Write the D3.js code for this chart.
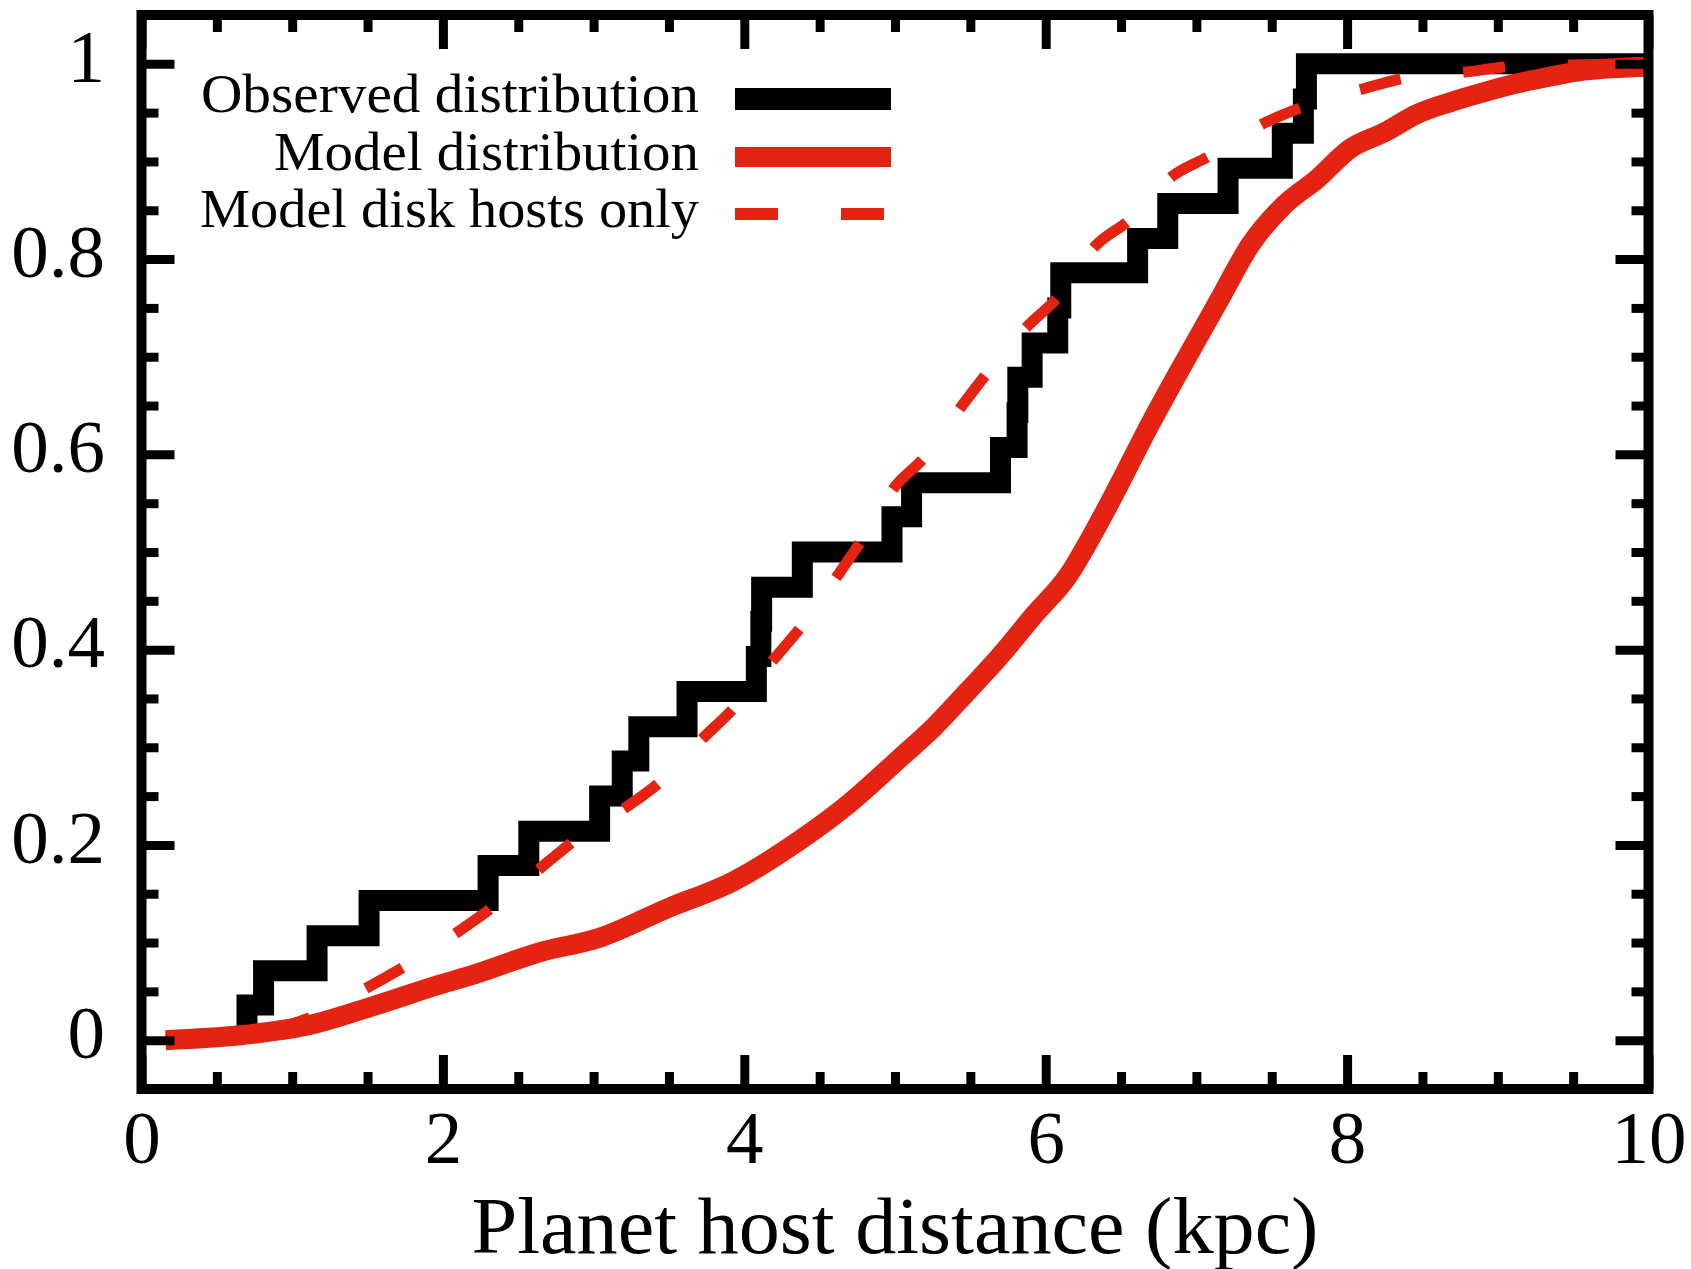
<!DOCTYPE html>
<html>
<head>
<meta charset="utf-8">
<script src="https://cdn.jsdelivr.net/npm/d3@7"></script>
<style>
  html, body { margin: 0; padding: 0; background: #fff; }
  svg { display: block; }
  text { font-family: "Liberation Serif", "Times New Roman", serif; fill: #000; }
</style>
</head>
<body>
<div id="chart"></div>
<script>
// observed distribution: distance of each jump (kpc) and the CDF level after it
var obsStepX = [0.70, 0.81, 1.165, 1.51, 2.30, 2.57, 3.04, 3.19, 3.30, 3.62,
                4.08, 4.11, 4.115, 4.385, 4.98, 5.11, 5.70, 5.81, 5.815, 5.91,
                6.08, 6.10, 6.61, 6.81, 7.21, 7.57, 7.71, 7.73];
var obsStepY = [0.036, 0.071, 0.107, 0.143, 0.179, 0.214, 0.250, 0.286, 0.321, 0.357,
                0.393, 0.429, 0.464, 0.500, 0.536, 0.571, 0.607, 0.643, 0.679, 0.714,
                0.750, 0.786, 0.821, 0.857, 0.893, 0.929, 0.964, 1.000];

// model distribution (solid red)
var modelX = [0.16, 0.65, 1.10, 1.54, 1.98, 2.20, 2.64, 3.04, 3.49, 3.93,
              4.37, 4.70, 5.04, 5.26, 5.48, 5.70, 5.92, 6.15, 6.30, 6.45,
              6.70, 6.95, 7.14, 7.36, 7.58, 7.80, 8.02, 8.25, 8.47, 8.69,
              8.91, 9.13, 9.35, 9.57, 10.0];
var modelY = [0.000, 0.005, 0.015, 0.035, 0.057, 0.067, 0.090, 0.105, 0.135, 0.163,
              0.205, 0.243, 0.290, 0.321, 0.357, 0.394, 0.435, 0.476, 0.515, 0.558,
              0.633, 0.703, 0.755, 0.815, 0.855, 0.882, 0.913, 0.930, 0.949, 0.961,
              0.971, 0.980, 0.987, 0.993, 0.997];

// model, disk hosts only (dashed red)
var diskX = [0.16, 0.60, 1.10, 1.50, 1.74, 2.10, 2.32, 2.63, 2.86, 3.21,
             3.43, 3.73, 3.93, 4.19, 4.37, 4.62, 4.77, 5.00, 5.19, 5.45,
             5.61, 5.89, 6.07, 6.34, 6.54, 6.85, 7.08, 7.46, 7.71, 8.12,
             8.37, 8.81, 9.07, 10.0];
var diskY = [0.000, 0.004, 0.022, 0.054, 0.075, 0.111, 0.135, 0.174, 0.203, 0.238,
             0.263, 0.310, 0.340, 0.389, 0.422, 0.476, 0.510, 0.567, 0.596, 0.651,
             0.683, 0.733, 0.759, 0.815, 0.838, 0.886, 0.905, 0.940, 0.956, 0.975,
             0.985, 0.992, 0.997, 1.000];

var xMajorTicks = [0, 2, 4, 6, 8, 10];
var xMinorTicks = [0.5, 1, 1.5, 2.5, 3, 3.5, 4.5, 5, 5.5, 6.5, 7, 7.5, 8.5, 9, 9.5];
var yMajorTicks = [0, 0.2, 0.4, 0.6, 0.8, 1];
var yTickLabels = ["0", "0.2", "0.4", "0.6", "0.8", "1"];
var yMinorTicks = [0.05, 0.1, 0.15, 0.25, 0.3, 0.35, 0.45, 0.5, 0.55, 0.65, 0.7, 0.75, 0.85, 0.9, 0.95];

var legendLabels = ["Observed distribution", "Model distribution", "Model disk hosts only"];

var red = "#e42312";

var svg = d3.select("#chart")
  .append("svg")
  .attr("width", 1691)
  .attr("height", 1269);

var x = d3.scaleLinear().domain([0, 10]).range([141.5, 1648.5]);
var y = d3.scaleLinear().domain([-0.05, 1.05]).range([1089, 15]);

// build point lists
var obsPts = [{x: obsStepX[0], y: 0}];
obsStepX.forEach(function(d, i) { obsPts.push({x: d, y: obsStepY[i]}); });
obsPts.push({x: 10, y: 1});
var modelPts = modelX.map(function(d, i) { return {x: d, y: modelY[i]}; });
var diskPts = diskX.map(function(d, i) { return {x: d, y: diskY[i]}; });

// lines
var stepLine = d3.line()
  .x(d => x(d.x))
  .y(d => y(d.y))
  .curve(d3.curveStepAfter);

var smoothLine = d3.line()
  .x(d => x(d.x))
  .y(d => y(d.y))
  .curve(d3.curveMonotoneX);

svg.append("path")
  .datum(obsPts)
  .attr("d", stepLine)
  .attr("fill", "none")
  .attr("stroke", "#000")
  .attr("stroke-width", 21)
  .attr("stroke-linejoin", "miter");

svg.append("path")
  .datum(modelPts)
  .attr("d", smoothLine)
  .attr("fill", "none")
  .attr("stroke", red)
  .attr("stroke-width", 20)
  .attr("stroke-linejoin", "round");

svg.append("path")
  .datum(diskPts)
  .attr("d", smoothLine)
  .attr("fill", "none")
  .attr("stroke", red)
  .attr("stroke-width", 11)
  .attr("stroke-dasharray", "42 63");

// legend
var legendRowY = [99, 157, 214];
var legendTextLen = [498, 425, 499];
var legendStyle = [
  {color: "#000", width: 22, dash: null},
  {color: red, width: 20, dash: null},
  {color: red, width: 12, dash: "43 63"}
];

var legend = svg.append("g");
legendLabels.forEach(function(label, i) {
  legend.append("text")
    .attr("x", 699)
    .attr("y", legendRowY[i] + 13)
    .attr("text-anchor", "end")
    .attr("font-size", 55)
    .attr("textLength", legendTextLen[i])
    .attr("lengthAdjust", "spacingAndGlyphs")
    .text(label);
  legend.append("line")
    .attr("x1", 735)
    .attr("x2", 891)
    .attr("y1", legendRowY[i])
    .attr("y2", legendRowY[i])
    .attr("stroke", legendStyle[i].color)
    .attr("stroke-width", legendStyle[i].width)
    .attr("stroke-dasharray", legendStyle[i].dash);
});

// axes: ticks point inward on all four sides
function tidy(g, font) {
  g.select(".domain").remove();
  g.selectAll(".tick line").attr("stroke", "#000").attr("stroke-width", 9);
  g.attr("font-size", font);
}

svg.append("g")
  .attr("transform", `translate(0, ${y(-0.05)})`)
  .call(d3.axisBottom(x).tickValues(xMajorTicks).tickSizeInner(-34).tickSizeOuter(0)
    .tickPadding(21).tickFormat(d3.format("d")))
  .call(g => tidy(g, 75));

svg.append("g")
  .attr("transform", `translate(0, ${y(-0.05)})`)
  .call(d3.axisBottom(x).tickValues(xMinorTicks).tickSizeInner(-17).tickSizeOuter(0).tickFormat(""))
  .call(g => tidy(g, 75));

svg.append("g")
  .attr("transform", `translate(0, ${y(1.05)})`)
  .call(d3.axisTop(x).tickValues(xMajorTicks).tickSizeInner(-34).tickSizeOuter(0).tickFormat(""))
  .call(g => tidy(g, 75));

svg.append("g")
  .attr("transform", `translate(0, ${y(1.05)})`)
  .call(d3.axisTop(x).tickValues(xMinorTicks).tickSizeInner(-17).tickSizeOuter(0).tickFormat(""))
  .call(g => tidy(g, 75));

svg.append("g")
  .attr("transform", `translate(${x(0)}, 0)`)
  .call(d3.axisLeft(y).tickValues(yMajorTicks).tickSizeInner(-33).tickSizeOuter(0)
    .tickPadding(36.5).tickFormat((d, i) => yTickLabels[i]))
  .call(g => tidy(g, 75))
  .call(g => g.selectAll(".tick text").attr("dy", "0.23em"));

svg.append("g")
  .attr("transform", `translate(${x(0)}, 0)`)
  .call(d3.axisLeft(y).tickValues(yMinorTicks).tickSizeInner(-17).tickSizeOuter(0).tickFormat(""))
  .call(g => tidy(g, 75));

svg.append("g")
  .attr("transform", `translate(${x(10)}, 0)`)
  .call(d3.axisRight(y).tickValues(yMajorTicks).tickSizeInner(-33).tickSizeOuter(0).tickFormat(""))
  .call(g => tidy(g, 75));

svg.append("g")
  .attr("transform", `translate(${x(10)}, 0)`)
  .call(d3.axisRight(y).tickValues(yMinorTicks).tickSizeInner(-17).tickSizeOuter(0).tickFormat(""))
  .call(g => tidy(g, 75));

// frame
svg.append("rect")
  .attr("x", x(0))
  .attr("y", y(1.05))
  .attr("width", x(10) - x(0))
  .attr("height", y(-0.05) - y(1.05))
  .attr("fill", "none")
  .attr("stroke", "#000")
  .attr("stroke-width", 10);

// x axis title
svg.append("text")
  .attr("x", (x(0) + x(10)) / 2)
  .attr("y", 1253)
  .attr("text-anchor", "middle")
  .attr("font-size", 80)
  .attr("textLength", 847)
  .attr("lengthAdjust", "spacingAndGlyphs")
  .text("Planet host distance (kpc)");
</script>
</body>
</html>
